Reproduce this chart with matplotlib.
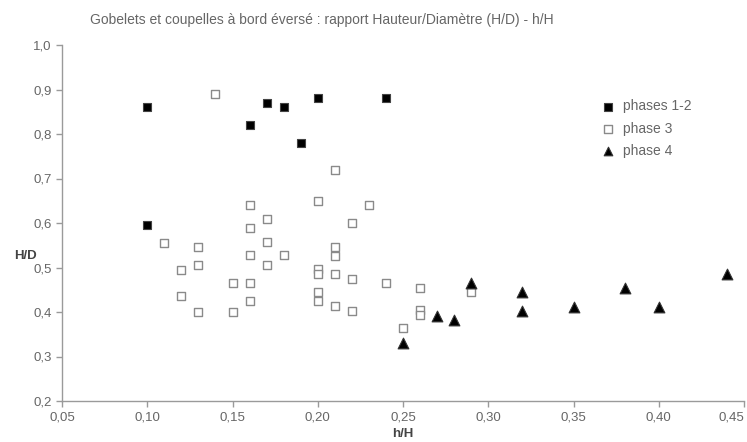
import matplotlib
matplotlib.use("Agg")
import matplotlib.pyplot as plt
from matplotlib.ticker import FuncFormatter

plt.rcParams['font.family'] = ['Liberation Sans', 'DejaVu Sans']

title = "Gobelets et coupelles à bord éversé : rapport Hauteur/Diamètre (H/D) - h/H"

# phases 1-2 (filled squares)
p12_x = [0.10, 0.10, 0.16, 0.17, 0.18, 0.19, 0.20, 0.24]
p12_y = [0.86, 0.595, 0.82, 0.87, 0.86, 0.78, 0.88, 0.88]

# phase 3 (open squares)
p3_x = [0.14, 0.11, 0.13, 0.12, 0.13, 0.12, 0.13, 0.15, 0.15, 0.16,
        0.16, 0.16, 0.16, 0.16, 0.17, 0.17, 0.17, 0.18, 0.20, 0.21,
        0.21, 0.20, 0.20, 0.21, 0.22, 0.20, 0.20, 0.21, 0.22, 0.22,
        0.23, 0.24, 0.25, 0.21, 0.26, 0.26, 0.26, 0.29]
p3_y = [0.89, 0.555, 0.545, 0.495, 0.505, 0.435, 0.40, 0.40, 0.465, 0.465,
        0.424, 0.527, 0.589, 0.64, 0.609, 0.558, 0.506, 0.527, 0.65, 0.545,
        0.525, 0.496, 0.485, 0.485, 0.475, 0.445, 0.424, 0.414, 0.403, 0.599,
        0.64, 0.465, 0.363, 0.72, 0.454, 0.405, 0.394, 0.445]

# phase 4 (filled triangles)
p4_x = [0.25, 0.27, 0.28, 0.29, 0.32, 0.32, 0.35, 0.38, 0.40, 0.44]
p4_y = [0.33, 0.391, 0.382, 0.465, 0.444, 0.403, 0.412, 0.455, 0.412, 0.485]

x_ticks = [0.05, 0.10, 0.15, 0.20, 0.25, 0.30, 0.35, 0.40, 0.45]
y_ticks = [0.2, 0.3, 0.4, 0.5, 0.6, 0.7, 0.8, 0.9, 1.0]

grey = "#666666"
spine = "#9a9a9a"

fig = plt.figure(figsize=(7.47, 4.42), dpi=100)
ax = fig.add_axes([62 / 747, 1 - 401 / 442, (744 - 62) / 747, (401 - 45) / 442])

ax.scatter(p12_x, p12_y, marker="s", s=40, facecolor="black", edgecolor="#444444",
           linewidths=0.8, label="phases 1-2", zorder=3)
ax.scatter(p3_x, p3_y, marker="s", s=40, facecolor="white", edgecolor="#8a8a8a",
           linewidths=1.0, label="phase 3", zorder=2)
ax.scatter(p4_x, p4_y, marker="^", s=60, facecolor="black", edgecolor="#333333",
           linewidths=0.8, label="phase 4", zorder=3)

ax.set_xlim(0.05, 0.45)
ax.set_ylim(0.2, 1.0)
ax.set_xticks(x_ticks)
ax.set_yticks(y_ticks)
ax.xaxis.set_major_formatter(FuncFormatter(lambda v, p: f"{v:.2f}".replace(".", ",")))
ax.yaxis.set_major_formatter(FuncFormatter(lambda v, p: f"{v:.1f}".replace(".", ",")))

for s in ["top", "right"]:
    ax.spines[s].set_visible(False)
for s in ["left", "bottom"]:
    ax.spines[s].set_color(spine)
    ax.spines[s].set_linewidth(1.0)
ax.tick_params(colors=spine, labelcolor=grey, labelsize=9.5, length=4, width=1.0,
               direction="out")

# last x label sits inside the figure, as in the original
fig.canvas.draw()
ax.get_xticklabels()[-1].set_ha("right")

ax.set_xlabel("h/H", fontsize=9.5, color="#444444", fontweight="bold", labelpad=0)
ax.xaxis.set_label_coords(0.5, -0.075)
ax.set_ylabel("H/D", fontsize=9.5, color="#444444", fontweight="bold", rotation=0)
ax.yaxis.set_label_coords(-0.054, 0.39)

fig.text(90 / 747, 1 - 20 / 442, title, fontsize=10, color=grey, va="center")

leg = ax.legend(loc="upper left", bbox_to_anchor=(0.778, 0.867), frameon=False,
                fontsize=10, handletextpad=0.5, labelspacing=0.6, markerscale=0.8,
                borderpad=0, handlelength=1.2)
for t in leg.get_texts():
    t.set_color(grey)

fig.savefig("out.png", dpi=100)
